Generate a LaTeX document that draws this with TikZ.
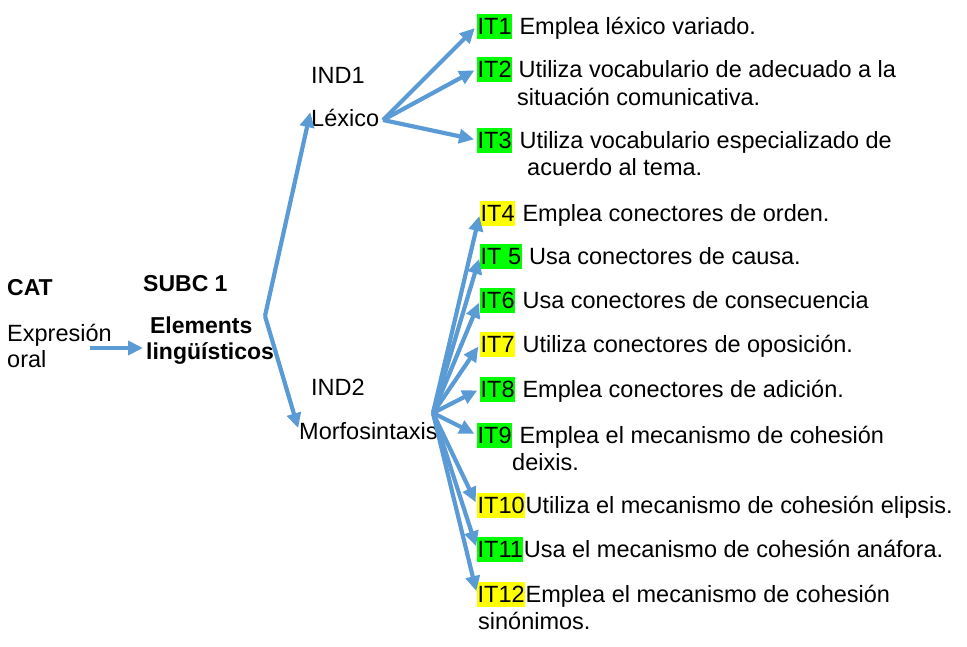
\documentclass[tikz,border=0pt]{standalone}
\usepackage{fontspec}
\setmainfont{Liberation Sans}
\usetikzlibrary{positioning,arrows.meta}
\definecolor{linkblue}{RGB}{91,155,213}
\definecolor{tagGreen}{RGB}{0,255,0}
\definecolor{tagYellow}{RGB}{255,255,0}

\begin{document}
\begin{tikzpicture}[x=1pt, y=-1pt, font=\fontsize{23.5}{26}\selectfont,
	link/.style={linkblue, line width=4.2pt, line join=round, shorten >=3pt, -{Triangle[length=15pt,width=14pt]}},
	word/.style={inner sep=0pt, text height=16.5pt, text depth=0.5pt},
	tag/.style={word, inner xsep=0.5pt, inner ysep=4pt},
	ok/.style={tag, fill=tagGreen},
	todo/.style={tag, fill=tagYellow},
	head/.style={inner sep=0pt, font=\fontsize{23}{26}\selectfont\bfseries}]
				\useasboundingbox (0,0) rectangle (967,646);
				% category and subcategory
				\node[head, anchor=west] (cat) at (7,288) {CAT};
				\node[inner sep=0pt, align=left, anchor=west] (expr) at (7,346) {Expresión\\oral};
				\node[head, anchor=west] (subc) at (143,284) {SUBC 1};
				\node[head, align=left, anchor=west] (elem) at (146,341) {\,Elements\\lingüísticos};
				% indicators
				\node[word, anchor=west] (ind1) at (311,75) {IND1};
				\node[word, anchor=west] (lex) at (311,118) {Léxico};
				\node[word, anchor=west] (ind2) at (311,387) {IND2};
				\node[word, anchor=west] (morf) at (299,431) {Morfosintaxis};
				\coordinate (exprend) at (90,348);
				\coordinate (subfork) at (265,316);
				\coordinate (lexfork) at (383,120);
				\coordinate (morffork) at (433,413);
				% items of IND1
				\node[ok, anchor=west] (it1) at (477,26) {IT1};
				\node[word, right=7pt of it1] (txt1) {Emplea léxico variado.};
				\node[ok, anchor=west] (it2) at (477,69) {IT2};
				\node[word, right=6pt of it2] (txt2) {Utiliza vocabulario de adecuado a la};
				\node[word, anchor=west] (txt2b) at (517,97) {situación comunicativa.};
				\node[ok, anchor=west] (it3) at (477,140) {IT3};
				\node[word, right=7pt of it3] (txt3) {Utiliza vocabulario especializado de};
				\node[word, anchor=west] (txt3b) at (527,167) {acuerdo al tema.};
				% items of IND2
				\node[todo, anchor=west] (it4) at (480,213) {IT4};
				\node[word, right=7pt of it4] (txt4) {Emplea conectores de orden.};
				\node[ok, anchor=west] (it5) at (480,256) {IT 5};
				\node[word, right=7pt of it5] (txt5) {Usa conectores de causa.};
				\node[ok, anchor=west] (it6) at (480,300) {IT6};
				\node[word, right=7pt of it6] (txt6) {Usa conectores de consecuencia};
				\node[todo, anchor=west] (it7) at (480,344) {IT7};
				\node[word, right=7pt of it7] (txt7) {Utiliza conectores de oposición.};
				\node[ok, anchor=west] (it8) at (480,389) {IT8};
				\node[word, right=7pt of it8] (txt8) {Emplea conectores de adición.};
				\node[ok, anchor=west] (it9) at (477,435) {IT9};
				\node[word, right=7pt of it9] (txt9) {Emplea el mecanismo de cohesión};
				\node[word, anchor=west] (txt9b) at (512,462) {deixis.};
				\node[todo, anchor=west] (it10) at (477,505) {IT10};
				\node[word, right=0pt of it10] (txt10) {Utiliza el mecanismo de cohesión elipsis.};
				\node[ok, anchor=west] (it11) at (477,549) {IT11};
				\node[word, right=0pt of it11] (txt11) {Usa el mecanismo de cohesión anáfora.};
				\node[todo, anchor=west] (it12) at (477,594) {IT12};
				\node[word, right=0pt of it12] (txt12) {Emplea el mecanismo de cohesión};
				\node[word, anchor=west] (txt12b) at (478,621) {sinónimos.};
				% connectors
				\draw[link] (exprend) -- (exprend -| elem.west);
				\draw[link] (subfork) -- (lex.north west);
				\draw[link] (subfork) -- (morf.west);
				\draw[link] (lexfork) -- (it1.west);
				\draw[link] (lexfork) -- (it2.west);
				\draw[link] (lexfork) -- (it3.west);
				\draw[link] (morffork) -- (it4.west);
				\draw[link] (morffork) -- (it5.west);
				\draw[link] (morffork) -- (it6.west);
				\draw[link] (morffork) -- (it7.west);
				\draw[link] (morffork) -- (it8.west);
				\draw[link] (morffork) -- (it9.west);
				\draw[link] (morffork) -- (it10.west);
				\draw[link] (morffork) -- (it11.west);
				\draw[link] (morffork) -- (it12.west);
			\end{tikzpicture}
\end{document}
